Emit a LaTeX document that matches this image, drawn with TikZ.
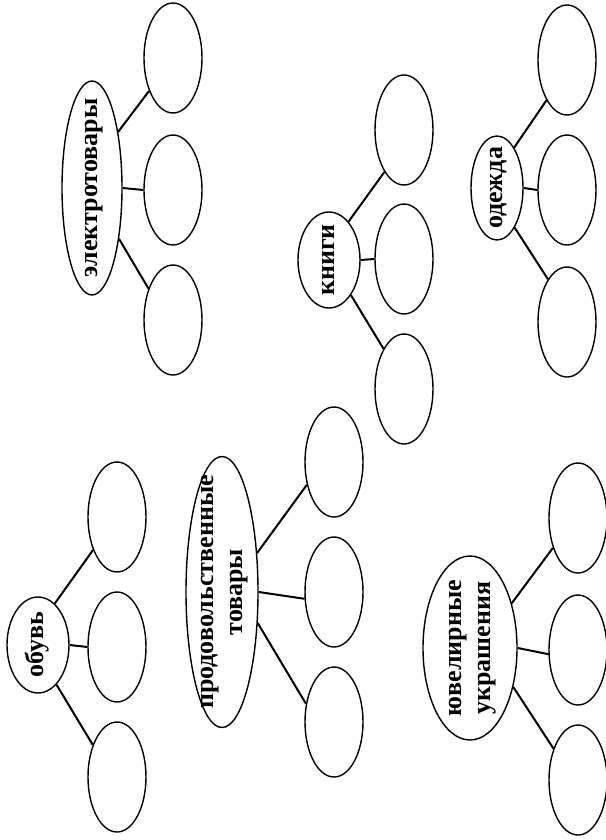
\documentclass[tikz,border=0pt]{standalone}
\usepackage{fontspec}
\setmainfont{Liberation Serif}
\usetikzlibrary{shapes.geometric}
\newcommand{\sidetext}[1]{\makebox[0pt]{\rotatebox{90}{\makebox[0pt]{\begin{tabular}{@{}c@{}}#1\end{tabular}}}}}

\begin{document}
\begin{tikzpicture}[x=1pt, y=-1pt, line join=round,
    topic/.style={draw, ellipse, line width=1.4pt, inner sep=0pt, font=\fontsize{26}{29}\selectfont\bfseries},
    leaf/.style={draw, ellipse, line width=1.4pt, inner sep=0pt, minimum width=58pt, minimum height=110pt},
    link/.style={line width=2pt}]
    \useasboundingbox (0,0) rectangle (605,840);
    % topics
    \node[topic, minimum width=62pt, minimum height=96pt] (obuv) at (38,645) {\sidetext{обувь}};
    \node[topic, minimum width=72pt, minimum height=271pt] (prod) at (222,592) {\sidetext{продовольственные\\товары}};
    \node[topic, minimum width=94pt, minimum height=184pt] (yuvel) at (470,648) {\sidetext{ювелирные\\украшения}};
    \node[topic, minimum width=60pt, minimum height=214pt] (elektro) at (92,188) {\sidetext{электротовары}};
    \node[topic, minimum width=62pt, minimum height=96pt] (knigi) at (329,260) {\sidetext{книги}};
    \node[topic, minimum width=52pt, minimum height=104pt] (odezhda) at (497,188) {\sidetext{одежда}};
    % empty ovals
    \foreach \i/\y in {1/517, 2/647, 3/777} \node[leaf] (obuv\i) at (117,\y) {};
    \foreach \i/\y in {1/462, 2/592, 3/722} \node[leaf] (prod\i) at (334,\y) {};
    \foreach \i/\y in {1/518, 2/650, 3/780} \node[leaf] (yuvel\i) at (578,\y) {};
    \foreach \i/\y in {1/58, 2/190, 3/320} \node[leaf] (elektro\i) at (173,\y) {};
    \foreach \i/\y in {1/130, 2/259, 3/389} \node[leaf] (knigi\i) at (404,\y) {};
    \foreach \i/\y in {1/60, 2/190, 3/322} \node[leaf] (odezhda\i) at (567,\y) {};
    % links
    \draw[link] (obuv.68) -- (obuv1.234);
    \draw[link] (obuv.east) -- (obuv2.west);
    \draw[link] (obuv.-65) -- (obuv3.127);
    \draw[link] (prod.48) -- (prod1.220);
    \draw[link] (prod.0) -- (prod2.193);
    \draw[link] (prod.-41) -- (prod3.147);
    \draw[link] (yuvel.47) -- (yuvel1.230);
    \draw[link] (yuvel.0) -- (yuvel2.188);
    \draw[link] (yuvel.-42) -- (yuvel3.128);
    \draw[link] (elektro.65) -- (elektro1.234);
    \draw[link] (elektro.east) -- (elektro2.west);
    \draw[link] (elektro.-62) -- (elektro3.128);
    \draw[link] (knigi.63) -- (knigi1.245);
    \draw[link] (knigi.east) -- (knigi2.west);
    \draw[link] (knigi.-58) -- (knigi3.117);
    \draw[link] (odezhda.67) -- (odezhda1.243);
    \draw[link] (odezhda.east) -- (odezhda2.west);
    \draw[link] (odezhda.-66) -- (odezhda3.114);
\end{tikzpicture}
\end{document}
